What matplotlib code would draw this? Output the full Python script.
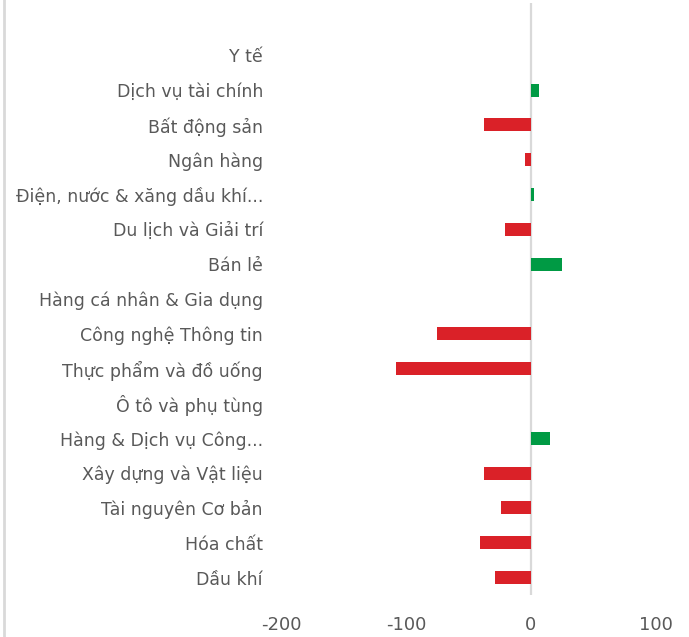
import matplotlib.pyplot as plt
from matplotlib.lines import Line2D

# Categories from top to bottom (first slot is empty in the original)
categories = ['', 'Y tế', 'Dịch vụ tài chính', 'Bất động sản', 'Ngân hàng',
              'Điện, nước & xăng dầu khí...', 'Du lịch và Giải trí', 'Bán lẻ',
              'Hàng cá nhân & Gia dụng', 'Công nghệ Thông tin', 'Thực phẩm và đồ uống',
              'Ô tô và phụ tùng', 'Hàng & Dịch vụ Công...', 'Xây dựng và Vật liệu',
              'Tài nguyên Cơ bản', 'Hóa chất', 'Dầu khí']
values = [0, 0, 6, -38, -5, 2, -21, 25, 0, -75, -108, 0, 15, -38, -24, -41, -29]
xticks = [-200, -100, 0, 100]

plt.rcParams['font.family'] = ['DejaVu Sans']
plt.rcParams['axes.unicode_minus'] = False

fig = plt.figure(figsize=(6.89, 6.37), dpi=100)
ax = fig.add_axes([281 / 689, 1 - 595 / 637, 375 / 689, 592 / 637])

ypos = list(range(len(categories)))[::-1]
colors = ['#009A44' if v > 0 else '#DA2128' for v in values]
ax.barh(ypos, values, height=0.37, color=colors)
ax.axvline(0, color='#d9d9d9', lw=1.6, zorder=0)

ax.set_xlim(-200, 100)
ax.set_ylim(-0.5, len(categories) - 0.5)
ax.set_xticks(xticks)
ax.set_yticks(ypos)
ax.set_yticklabels(categories)
ax.tick_params(axis='both', length=0, labelsize=12.5, colors='#595959')
ax.tick_params(axis='x', labelsize=13, pad=15)
ax.tick_params(axis='y', pad=13)
for s in ax.spines.values():
    s.set_visible(False)

# Left border line of the chart frame
fig.add_artist(Line2D([4 / 689, 4 / 689], [0, 1], color='#d9d9d9', lw=2,
                      transform=fig.transFigure))

fig.savefig('out.png', dpi=100)
